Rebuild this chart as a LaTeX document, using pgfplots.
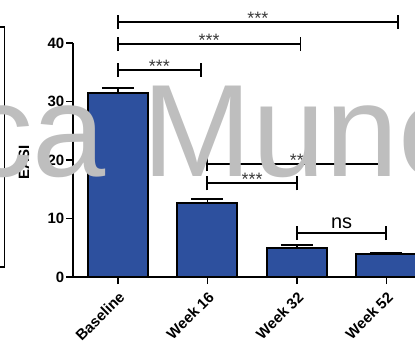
\documentclass[border=0pt]{standalone}
\usepackage{fontspec}
\setmainfont{Liberation Sans}
\usepackage{pgfplots}
\pgfplotsset{compat=1.18}
\definecolor{barblue}{RGB}{45,80,158}
\definecolor{wm}{RGB}{190,190,190}
\definecolor{stargray}{RGB}{60,60,60}
\newcommand{\bracket}[4]{%
  \draw[line width=1.8bp] (axis cs:#1,#3) -- (axis cs:#2,#3);
  \draw[line width=1.8bp] ([yshift=-7bp]axis cs:#1,#3) -- ([yshift=7bp]axis cs:#1,#3);
  \draw[line width=1.8bp] ([yshift=-7bp]axis cs:#2,#3) -- ([yshift=7bp]axis cs:#2,#3);
  \node[anchor=base, inner sep=0, text=stargray, font=\fontsize{18}{18}\selectfont] at ([yshift=-2.5bp]axis cs:{(#1+#2)/2},#3) {#4};
}
\begin{document}
\begin{tikzpicture}[x=1bp,y=1bp]
\clip (0,0) rectangle (415,355);
\draw[line width=1.5bp] (0,328) -- (4.5,328) -- (4.5,88) -- (0,88);
\begin{axis}[
  at={(73bp,78bp)}, anchor=south west,
  scale only axis, width=342bp, height=234bp,
  xmin=-0.5, xmax=3.32, ymin=0, ymax=40,
  axis lines=left, axis line style={line width=2bp, -},
  ytick={0,10,20,30,40},
  xtick={0,1,2,3}, xticklabels={Baseline,Week 16,Week 32,Week 52},
  tick style={line width=1.5bp, black},
  tick align=outside, major tick length=7bp,
  yticklabel style={font=\bfseries\fontsize{15}{15}\selectfont, inner sep=1.5bp},
  xticklabel style={font=\bfseries\fontsize{15}{15}\selectfont, rotate=45, anchor=north east, inner sep=1bp},
  xticklabel shift=5bp,
  ylabel={EASI},
  ylabel style={font=\bfseries\fontsize{15}{15}\selectfont, at={(axis description cs:0,0.49)}, anchor=center, yshift=49bp},
  clip=false,
  /pgf/number format/assume math mode=true,
]
\addplot[ybar, bar width=0.67, fill=barblue, draw=black, line width=1.8bp,
  error bars/.cd, y dir=plus, y explicit,
  error bar style={line width=1.5bp, black},
  error mark=|,
  error mark options={line width=1.5bp, mark size=16bp, black}]
  coordinates {(0,31.5) +- (0,0.8) (1,12.7) +- (0,0.6) (2,5.0) +- (0,0.45) (3,3.9) +- (0,0.3)};
\bracket{0}{3.13}{43.6}{***}
\bracket{0}{2.04}{39.8}{***}
\bracket{0}{0.93}{35.4}{***}
\bracket{1}{3}{19.3}{**}
\bracket{1}{2}{16.0}{***}
\draw[line width=1.8bp] (axis cs:2,7.5) -- (axis cs:3,7.5);
\draw[line width=1.8bp] ([yshift=-7bp]axis cs:2,7.5) -- ([yshift=7bp]axis cs:2,7.5);
\draw[line width=1.8bp] ([yshift=-7bp]axis cs:3,7.5) -- ([yshift=7bp]axis cs:3,7.5);
\node[anchor=base, inner sep=0, font=\fontsize{20}{20}\selectfont] at ([yshift=5bp]axis cs:2.5,7.5) {ns};
\end{axis}
\node[text=wm, font=\fontsize{132}{132}\selectfont, anchor=base west, inner sep=0] at (-33,179) {ca Mune};
\end{tikzpicture}
\end{document}
